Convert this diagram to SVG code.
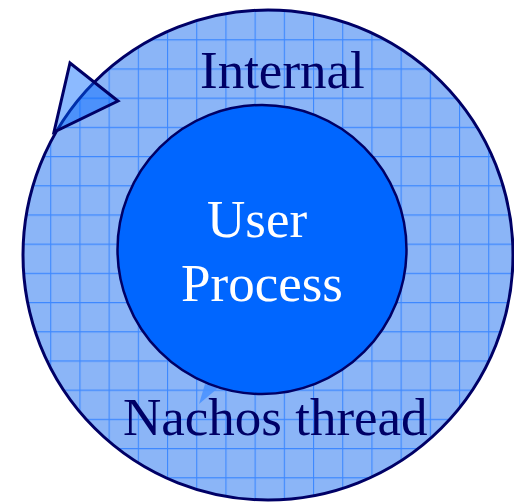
<svg xmlns="http://www.w3.org/2000/svg" width="514" height="503" viewBox="0 0 514 503">
  <style>
    .lbl { font-family: "Liberation Serif", "Times New Roman", serif; font-size: 53px; }
    .dark { fill: #000066; }
    .light { fill: #ffffff; }
    .edge { stroke: #000066; }
  </style>
  <defs>
    <pattern id="grid" patternUnits="userSpaceOnUse" x="21" y="10" width="29.2" height="29.2">
      <rect width="29.2" height="29.2" fill="#8bb5f7"/>
      <path d="M0.5 0 V29.2 M0 0.5 H29.2" stroke="#3d88ff" stroke-width="1.2" fill="none"/>
    </pattern>
  </defs>
  <rect width="514" height="503" fill="#ffffff"/>

  <g id="internal">
    <circle cx="268" cy="255" r="245" fill="url(#grid)" class="edge" stroke-width="3"/>
    <text class="lbl dark" x="200" y="88">Internal</text>
  </g>

  <g id="connectors">
    <polygon points="199,404 205,384 218,388" fill="#4a92ff" opacity="0.9"/>
    <polygon points="70,63 118,101 54,132" fill="#0066ff" fill-opacity="0.45" class="edge" stroke-width="3" stroke-linejoin="miter"/>
  </g>

  <g id="user-process">
    <circle cx="262" cy="249.5" r="144.5" fill="#0066ff" class="edge" stroke-width="2.5"/>
    <text class="lbl light" x="207" y="237">User</text>
    <text class="lbl light" x="181" y="301">Process</text>
  </g>

  <g id="nachos-thread">
    <text class="lbl dark" x="123" y="435">Nachos thread</text>
  </g>
</svg>
